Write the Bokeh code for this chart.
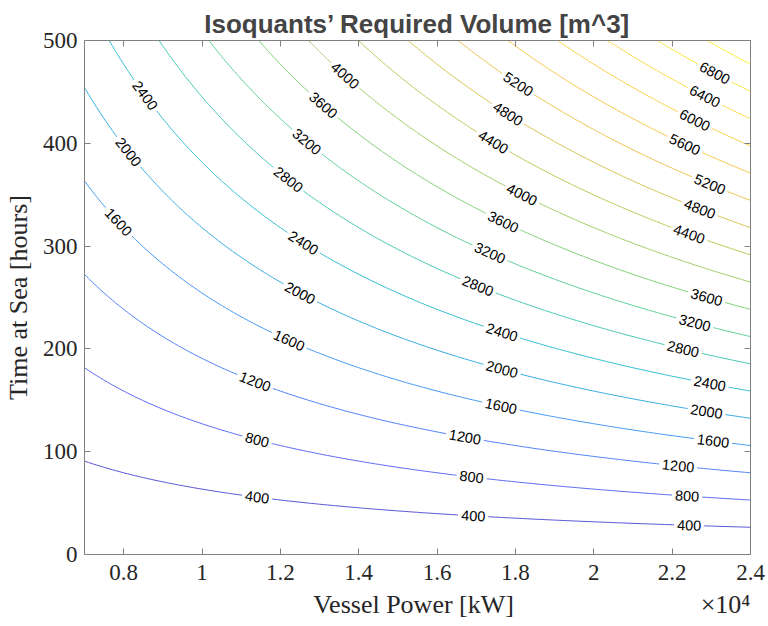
import numpy as np
from bokeh.plotting import figure
from bokeh.models import LinearAxis, FixedTicker, Range1d, ColumnDataSource
from bokeh.core.properties import value
from bokeh.embed import file_html
from bokeh.resources import INLINE

# ---------------- data ----------------
power_min, power_max = 7000, 24000          # Vessel Power [kW]
time_min, time_max = 0, 500                 # Time at Sea [hours]
volume_per_kwh = 6.29e-4                    # m^3 per kWh, read from the isoquants
levels = [400, 800, 1200, 1600, 2000, 2400, 2800, 3200, 3600, 4000,
          4400, 4800, 5200, 5600, 6000, 6400, 6800, 7200]

# contour labels: level and the power where the label sits on that isoquant
label_levels = [2400, 2000, 1600,
                4000, 3600, 3200, 2800, 2400, 2000, 1600, 1200, 800, 400,
                5200, 4800, 4400, 4000, 3600, 3200, 2800, 2400, 2000, 1600, 1200, 800, 400,
                6800, 6400, 6000, 5600, 5200, 4800, 4400, 3600, 3200, 2800, 2400, 2000, 1600, 1200, 800, 400]
label_power = [8548, 8122, 7867,
               13651, 13097, 12673, 12204, 12587, 12503, 12222, 11355, 11406, 11406,
               18071, 17809, 17434, 18166, 17689, 17349, 17043, 17656, 17656, 17630, 16712, 16883, 16923,
               23089, 22834, 22579, 22324, 22962, 22707, 22434, 22878, 22579, 22281, 22962, 22878, 23046, 22153, 22383, 22434]

x_ticks = [8000, 10000, 12000, 14000, 16000, 18000, 20000, 22000, 24000]
x_tick_labels = ["0.8", "1", "1.2", "1.4", "1.6", "1.8", "2", "2.2", "2.4"]
y_ticks = [0, 100, 200, 300, 400, 500]
x_label = "Vessel Power [kW]"
x_exponent = "\u00d710\u2074"
y_label = "Time at Sea [hours]"
title = "Isoquants\u2019 Required Volume [m^3]"

# ---------------- styling helpers ----------------
parula_anchor = [
    (0.00, (62, 38, 168)), (0.10, (71, 82, 245)), (0.20, (46, 135, 247)),
    (0.30, (18, 177, 214)), (0.40, (55, 200, 151)), (0.50, (129, 204, 89)),
    (0.60, (190, 190, 60)), (0.70, (240, 186, 54)), (0.80, (252, 200, 50)),
    (0.90, (245, 226, 38)), (1.00, (249, 251, 14))]

def parula(t):
    for (t0, c0), (t1, c1) in zip(parula_anchor[:-1], parula_anchor[1:]):
        if t0 <= t <= t1:
            f = (t - t0) / (t1 - t0)
            c = [c0[i] + f * (c1[i] - c0[i]) for i in range(3)]
            c = [ci + 0.12 * (255 - ci) for ci in c]
            return "#%02x%02x%02x" % tuple(int(round(v)) for v in c)
    return "#f9fb0e"

FW, FH = 666, 514
p = figure(frame_width=FW, frame_height=FH, output_backend="svg", toolbar_location=None,
           x_range=Range1d(power_min, power_max), y_range=Range1d(time_min, time_max),
           min_border_left=84, min_border_right=16, min_border_top=40, min_border_bottom=72,
           background_fill_color="white", border_fill_color="white")
p.grid.visible = False
p.outline_line_color = None

# field
P = np.linspace(power_min, power_max, 171)
T = np.linspace(time_min, time_max, 201)
PP, TT = np.meshgrid(P, T)
Z = volume_per_kwh * PP * TT
zmax = Z.max()
colors = [parula(l / zmax) for l in levels]
p.contour(P, T, Z, levels=levels, line_color=colors, line_width=1.0, fill_color=None)

# labels on the isoquants
sx = FW / (power_max - power_min)
sy = FH / (time_max - time_min)
lx, ly, lang, ltxt = [], [], [], []
for lev, pw in zip(label_levels, label_power):
    t = lev / (volume_per_kwh * pw)
    slope = -t / pw
    lx.append(pw); ly.append(t)
    lang.append(float(np.arctan(slope * sy / sx)))
    ltxt.append(str(lev))
src = ColumnDataSource(dict(x=lx, y=ly, angle=lang, text=ltxt))
p.text(x="x", y="y", text="text", angle="angle", source=src,
       text_font=value("Liberation Sans"), text_font_size="14.5px", text_color="black",
       text_align="center", text_baseline="middle",
       background_fill_color="white", padding=3)

# axes
axis_gray = "#808080"
lab_col = "#262626"
serif = "Liberation Serif"
for ax in [p.xaxis[0], p.yaxis[0]]:
    ax.axis_line_color = axis_gray
    ax.major_tick_line_color = axis_gray
    ax.major_tick_in = 6
    ax.major_tick_out = 0
    ax.minor_tick_line_color = None
    ax.major_label_text_font = serif
    ax.major_label_text_font_size = "23px"
    ax.major_label_text_color = lab_col
    ax.axis_label_text_font = serif
    ax.axis_label_text_font_size = "26px"
    ax.axis_label_text_font_style = "normal"
    ax.axis_label_text_color = lab_col

p.xaxis.ticker = FixedTicker(ticks=x_ticks)
p.xaxis.major_label_overrides = {t: s for t, s in zip(x_ticks, x_tick_labels)}
p.yaxis.ticker = FixedTicker(ticks=y_ticks)
p.yaxis.axis_label = y_label
p.xaxis.major_label_standoff = 10
p.yaxis.major_label_standoff = 7
p.yaxis.axis_label_standoff = 7

# second row under the x axis: axis title and the x10^4 multiplier on one line
xlab_pos = [15400, 23362]
xrow = LinearAxis(ticker=FixedTicker(ticks=xlab_pos),
                  major_label_overrides={xlab_pos[0]: x_label, xlab_pos[1]: x_exponent})
xrow.axis_line_color = None
xrow.major_tick_line_color = None
xrow.minor_tick_line_color = None
xrow.major_tick_in = 0
xrow.major_tick_out = 0
xrow.major_label_standoff = 7
xrow.major_label_text_font = serif
xrow.major_label_text_font_size = "26px"
xrow.major_label_text_color = lab_col
p.add_layout(xrow, "below")

top = LinearAxis(ticker=FixedTicker(ticks=x_ticks))
right = LinearAxis(ticker=FixedTicker(ticks=y_ticks))
for ax in (top, right):
    ax.axis_line_color = axis_gray
    ax.major_tick_line_color = axis_gray
    ax.major_tick_in = 6
    ax.major_tick_out = 0
    ax.minor_tick_line_color = None
    ax.major_label_text_font_size = "0px"
    ax.major_label_standoff = 0
p.add_layout(top, "above")
p.add_layout(right, "right")

p.title.text = title
p.title.text_font = "Liberation Sans"
p.title.text_font_style = "bold"
p.title.text_font_size = "26px"
p.title.align = "center"
p.title.standoff = 4

open("out.html", "w").write(file_html(p, INLINE))
